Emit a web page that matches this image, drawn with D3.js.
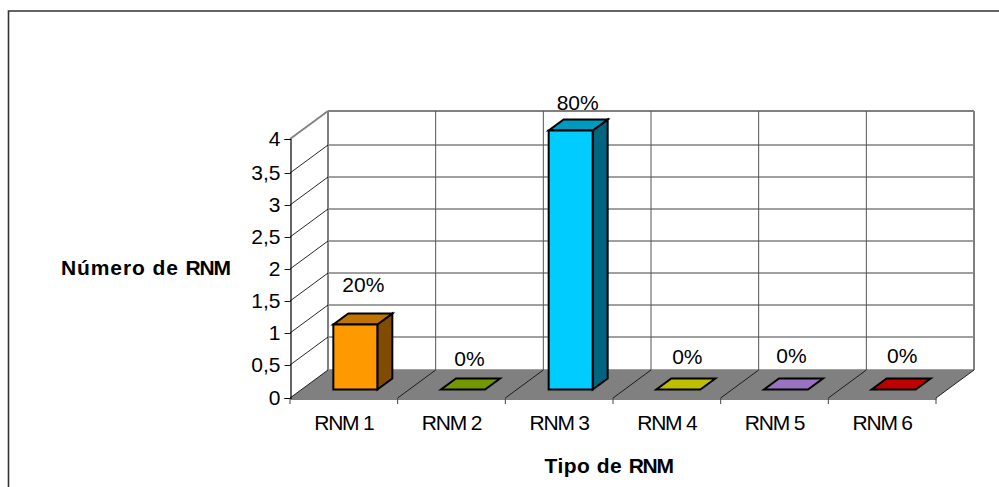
<!DOCTYPE html>
<html>
<head>
<meta charset="utf-8">
<script src="https://cdn.jsdelivr.net/npm/d3@7"></script>
<style>
  html, body { margin: 0; padding: 0; background: #fff; }
  svg { display: block; }
  text { font-family: "Liberation Sans", Arial, sans-serif; fill: #000; }
</style>
</head>
<body>
<svg id="chart" width="999" height="487"></svg>
<script>
// Chart content
const categories = ["RNM 1", "RNM 2", "RNM 3", "RNM 4", "RNM 5", "RNM 6"];
const counts = [1, 0, 4, 0, 0, 0];
const shares = ["20%", "0%", "80%", "0%", "0%", "0%"];
const baseColors = ["#FF9900", "#99CC00", "#00CCFF", "#FFFF00", "#CC99FF", "#FF0000"];
const yTicks = [0, 0.5, 1, 1.5, 2, 2.5, 3, 3.5, 4];
const yTickLabels = ["0", "0,5", "1", "1,5", "2", "2,5", "3", "3,5", "4"];
const yTitleWords = ["Número de", "RNM"];
const xTitleWords = ["Tipo de", "RNM"];

// Layout of the oblique 3D box
const plot = { left: 290, right: 936, bottom: 398 };
const depth = { dx: 38, dy: -28 };
const barDepth = { dx: 15, dy: -11 };
const barFloor = { dx: 11.5, dy: -8.5 };
const barWidth = 44;
const labelNudge = [
  { dx: 8, dy: -33 }, { dx: 6.5, dy: -24 }, { dx: 7, dy: -21 },
  { dx: 9, dy: -26 }, { dx: 5.5, dy: -27 }, { dx: 8.5, dy: -27 }
];

const svg = d3.select("#chart");
const x = d3.scaleBand().domain(categories).range([plot.left, plot.right]);
// The first and last intervals of the value axis are drawn a little taller
const y = d3.scaleLinear().domain([0, 0.5, 3.5, 4]).range([plot.bottom, 365, 173, 139]);
const poly = pts => pts.map(p => p.join(",")).join(" ");

// Outer chart frame: left and top edges only
svg.append("path")
  .attr("d", "M8.5,487V11H999")
  .attr("fill", "none").attr("stroke", "#333").attr("stroke-width", 1.6);

const GRID = "#808080";
const backLeft = plot.left + depth.dx;
const backRight = plot.right + depth.dx;
const edges = x.domain().map(d => x(d)).concat(plot.right);

// Floor
svg.append("polygon")
  .attr("points", poly([
    [plot.left, plot.bottom], [plot.right, plot.bottom],
    [backRight, plot.bottom + depth.dy], [backLeft, plot.bottom + depth.dy]
  ]))
  .attr("fill", GRID);

// Back wall: horizontal gridlines
svg.append("g").selectAll("line").data(yTicks).join("line")
  .attr("x1", backLeft).attr("x2", backRight)
  .attr("y1", d => y(d) + depth.dy).attr("y2", d => y(d) + depth.dy)
  .attr("stroke", GRID).attr("stroke-width", d => d === 4 ? 2 : 1.5);

// Back wall: vertical gridlines
svg.append("g").selectAll("line").data(edges).join("line")
  .attr("x1", d => d + depth.dx).attr("x2", d => d + depth.dx)
  .attr("y1", y(4) + depth.dy).attr("y2", y(0) + depth.dy)
  .attr("stroke", (d, i) => (i === 0 || i === edges.length - 1) ? GRID : "#555")
  .attr("stroke-width", (d, i) => (i === 0 || i === edges.length - 1) ? 2 : 1);

// Side wall diagonals
svg.append("g").selectAll("line").data(yTicks).join("line")
  .attr("x1", plot.left).attr("x2", backLeft)
  .attr("y1", d => y(d)).attr("y2", d => y(d) + depth.dy)
  .attr("stroke", d => d === 4 ? GRID : "#111")
  .attr("stroke-width", d => d === 4 ? 1.8 : 0.9);

// Floor dividers
svg.append("g").selectAll("line").data(edges.slice(1)).join("line")
  .attr("x1", d => d).attr("x2", d => d + depth.dx)
  .attr("y1", plot.bottom).attr("y2", plot.bottom + depth.dy)
  .attr("stroke", "#111").attr("stroke-width", 0.9);

// Bars as three faces each
const barData = categories.map((c, i) => ({ c, v: counts[i], color: baseColors[i], share: shares[i], nudge: labelNudge[i] }));
const barLeft = d => x(d.c) + (x.bandwidth() - barWidth) / 2 + barFloor.dx;
const barG = svg.append("g").selectAll("g").data(barData).join("g")
  .attr("stroke", "#000").attr("stroke-width", 2).attr("stroke-linejoin", "miter");

const shade = (col, k) => {
  const c = d3.rgb(col);
  return d3.rgb(c.r * k, c.g * k, c.b * k).formatHex();
};

barG.filter(d => d.v > 0).append("polygon")
  .attr("fill", d => shade(d.color, 0.5))
  .attr("points", d => {
    const r = barLeft(d) + barWidth, b = y(0) + barFloor.dy, t = y(d.v) + barFloor.dy;
    return poly([[r, b], [r + barDepth.dx, b + barDepth.dy], [r + barDepth.dx, t + barDepth.dy], [r, t]]);
  });

barG.append("polygon")
  .attr("fill", d => shade(d.color, 0.75))
  .attr("points", d => {
    const l = barLeft(d), r = l + barWidth, t = y(d.v) + barFloor.dy;
    return poly([[l, t], [r, t], [r + barDepth.dx, t + barDepth.dy], [l + barDepth.dx, t + barDepth.dy]]);
  });

barG.filter(d => d.v > 0).append("rect")
  .attr("x", barLeft).attr("width", barWidth)
  .attr("y", d => y(d.v) + barFloor.dy)
  .attr("height", d => y(0) - y(d.v))
  .attr("fill", d => d.color);

// Value labels above the bars
svg.append("g").selectAll("text").data(barData).join("text")
  .attr("x", d => barLeft(d) + barWidth / 2 + d.nudge.dx)
  .attr("y", d => y(d.v) + barFloor.dy + d.nudge.dy)
  .attr("text-anchor", "middle")
  .attr("font-size", 21)
  .text(d => d.share);

// Value axis
const yAxis = d3.axisLeft(y).tickValues(yTicks)
  .tickFormat((d, i) => yTickLabels[i]).tickSize(6).tickPadding(4);
const yG = svg.append("g").attr("transform", `translate(${plot.left + 0.5},0)`).call(yAxis);
yG.select(".domain").attr("stroke", "#000").attr("stroke-width", 1.2);
yG.selectAll("line").attr("stroke", "#000").attr("stroke-width", 0.9);
yG.selectAll("text").attr("font-size", 21).attr("font-family", '"Liberation Sans", Arial, sans-serif').attr("fill", "#000");

// Category axis
const xAxis = d3.axisBottom(x).tickSize(0).tickPadding(17);
const xG = svg.append("g").attr("transform", `translate(0,${plot.bottom + 0.5})`).call(xAxis);
xG.select(".domain").attr("stroke", "#000").attr("stroke-width", 1);
xG.selectAll("text").attr("font-size", 21).attr("letter-spacing", -1.2)
  .attr("font-family", '"Liberation Sans", Arial, sans-serif').attr("fill", "#000");
svg.append("g").selectAll("line").data(edges).join("line")
  .attr("x1", d => d).attr("x2", d => d)
  .attr("y1", plot.bottom).attr("y2", plot.bottom + 6)
  .attr("stroke", "#444").attr("stroke-width", 1);

// Axis titles: the leading words sit wider than the tight acronym
function axisTitle(words, left, baseline, spacing) {
  const t = svg.append("text").attr("x", left).attr("y", baseline)
    .attr("font-size", 21).attr("font-weight", "bold");
  t.append("tspan").attr("letter-spacing", spacing).text(words[0] + " ");
  t.append("tspan").attr("letter-spacing", -1.2).text(words[1]);
}
axisTitle(yTitleWords, 61, 275, 0.9);
axisTitle(xTitleWords, 544.5, 473, 0.5);
</script>
</body>
</html>
